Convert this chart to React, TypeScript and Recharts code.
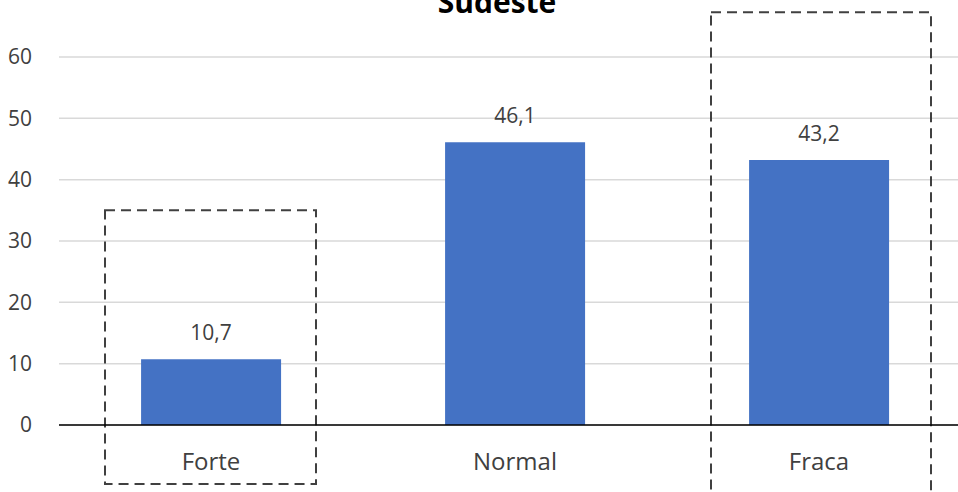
import { Bar, BarChart, CartesianGrid, LabelList, ReferenceArea, XAxis, YAxis } from "recharts";

const title = "Sudeste";
const categories = ["Forte", "Normal", "Fraca"];
const values = [10.7, 46.1, 43.2];
const yTicks = [0, 10, 20, 30, 40, 50, 60];

// highlighted boxes: category, top value, bottom value
const boxes = [
  { cat: "Forte", top: 35, bottom: -9.6 },
  { cat: "Fraca", top: 67.3, bottom: -14 },
];
// horizontal inset of each box inside its band (px, left / right)
const boxInsets: Record<string, [number, number]> = {
  Forte: [46, 47],
  Fraca: [44, 40],
};

const data = categories.map((name, i) => ({ name, value: values[i] }));

const fmt = (v: any) => String(v).replace(".", ",");

const makeBox = (cat: string) => (props: any) => {
  const { x, y, width, height } = props;
  const [l, r] = boxInsets[cat];
  return (
    <rect
      x={x + l}
      y={y}
      width={width - l - r}
      height={height}
      fill="none"
      stroke="#404040"
      strokeWidth={2}
      strokeDasharray="10 6"
    />
  );
};

export default function App() {
  return (
    <div
      style={{
        position: "fixed",
        left: 0,
        top: 0,
        width: 958,
        height: 492,
        overflow: "hidden",
        background: "#fff",
        fontFamily: "'Open Sans', sans-serif",
      }}
    >
      <BarChart
        width={975}
        height={492}
        data={data}
        margin={{ top: 57, right: 4, bottom: 7, left: 0 }}
        barCategoryGap="27%"
      >
        <CartesianGrid vertical={false} stroke="#d9d9d9" strokeWidth={1.5} />
        <XAxis
          dataKey="name"
          height={60}
          tickLine={false}
          axisLine={{ stroke: "#000", strokeWidth: 1.5 }}
          tick={{ fill: "#404040", fontSize: 24 }}
          tickMargin={22}
        />
        <YAxis
          width={59}
          domain={[0, 60]}
          ticks={yTicks}
          tickLine={false}
          axisLine={false}
          tick={{ fill: "#404040", fontSize: 21 }}
          tickMargin={21}
        />
        <Bar dataKey="value" fill="#4472C4" isAnimationActive={false}>
          <LabelList
            dataKey="value"
            position="top"
            offset={19}
            formatter={fmt}
            style={{ fill: "#404040", fontSize: 21 }}
          />
        </Bar>
        {boxes.map((b) => (
          <ReferenceArea
            key={b.cat}
            x1={b.cat}
            x2={b.cat}
            y1={b.bottom}
            y2={b.top}
            ifOverflow="visible"
            shape={makeBox(b.cat)}
          />
        ))}
      </BarChart>
      <svg
        width={958}
        height={492}
        style={{ position: "absolute", left: 0, top: 0, pointerEvents: "none" }}
      >
        <text
          x={497}
          y={13}
          textAnchor="middle"
          fontSize={30}
          fontWeight={700}
          fill="#000"
          fontFamily="'Open Sans', sans-serif"
        >
          {title}
        </text>
      </svg>
    </div>
  );
}
